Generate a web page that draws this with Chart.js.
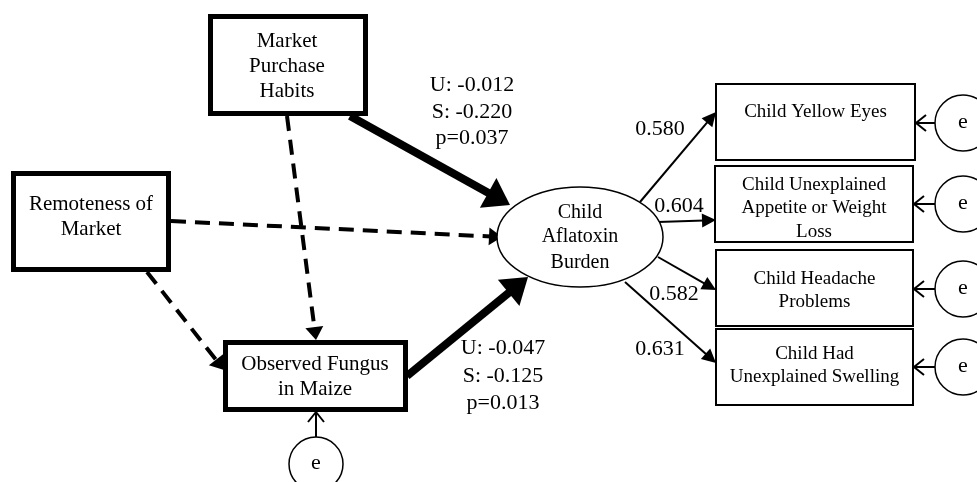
<!DOCTYPE html>
<html>
<head>
<meta charset="utf-8">
<script src="https://cdn.jsdelivr.net/npm/chart.js@4.4.1/dist/chart.umd.min.js"></script>
<style>
  html, body { margin: 0; padding: 0; background: #fff; }
  #wrap { width: 977px; height: 482px; }
</style>
</head>
<body>
<div id="wrap"><canvas id="sem"></canvas></div>
<script>
// node labels
const predictorLabels = [['Market', 'Purchase', 'Habits'], ['Remoteness of', 'Market']];
const mediatorLabel = ['Observed Fungus', 'in Maize'];
const latentLabel = ['Child', 'Aflatoxin', 'Burden'];
const indicatorLabels = [
    ['Child Yellow Eyes'],
    ['Child Unexplained', 'Appetite or Weight', 'Loss'],
    ['Child Headache', 'Problems'],
    ['Child Had', 'Unexplained Swelling']
];
const errorLabel = 'e';

// loadings of the latent factor on the four indicators
const loadings = [0.580, 0.604, 0.582, 0.631];

// significant paths: purchase habits -> burden, fungus -> burden
const pathU = [-0.012, -0.047];
const pathS = [-0.220, -0.125];
const pathP = [0.037, 0.013];

// layout, in diagram units (the scales map them to the canvas)
const boxMph = { x0: 210.5, y0: 16.5, x1: 365.5, y1: 113.5, lw: 5, cx: 287, ty: [41, 66, 91], font: 21 };
const boxRem = { x0: 13.5, y0: 173.5, x1: 168.5, y1: 269.5, lw: 5, cx: 91, ty: [204, 229], font: 21 };
const boxFun = { x0: 225.5, y0: 342.5, x1: 405.5, y1: 409.5, lw: 5, cx: 315, ty: [364, 389], font: 21 };
const indBoxes = [
    { x0: 716, y0: 84, x1: 915, y1: 160, ty: [112] },
    { x0: 715, y0: 166, x1: 913, y1: 242, ty: [185, 208, 232] },
    { x0: 716, y0: 250, x1: 913, y1: 326, ty: [279, 302] },
    { x0: 716, y0: 329, x1: 913, y1: 405, ty: [354, 377] }
];
const latent = { cx: 580, cy: 237, rx: 83, ry: 50, ty: [213, 237, 263] };
const errRight = [123, 204, 289, 367];
const loadArrows = [
    [640, 202, 716, 112],
    [658, 222, 716, 220],
    [658, 257, 716, 290],
    [625, 282, 716, 363]
];
const loadText = [[660, 129], [679, 206], [674, 294], [660, 349]];
const coefText = [[472, [85, 112, 138]], [503, [348, 376, 403]]];

const FONT = '"Liberation Serif", "Times New Roman", serif';

function arrow(ctx, a, b, o) {
    const dx = b.x - a.x, dy = b.y - a.y;
    const len = Math.hypot(dx, dy);
    const ux = dx / len, uy = dy / len;
    const bx = b.x - ux * o.head, by = b.y - uy * o.head;
    ctx.save();
    ctx.strokeStyle = '#000';
    ctx.fillStyle = '#000';
    ctx.lineWidth = o.lw;
    ctx.setLineDash(o.dash || []);
    ctx.beginPath();
    ctx.moveTo(a.x, a.y);
    if (o.open) ctx.lineTo(b.x, b.y);
    else ctx.lineTo(bx + ux * 2, by + uy * 2);
    ctx.stroke();
    ctx.setLineDash([]);
    ctx.beginPath();
    ctx.moveTo(bx - uy * o.half, by + ux * o.half);
    ctx.lineTo(b.x, b.y);
    ctx.lineTo(bx + uy * o.half, by - ux * o.half);
    if (o.open) {
        ctx.lineWidth = o.lw;
        ctx.stroke();
    } else {
        ctx.closePath();
        ctx.fill();
    }
    ctx.restore();
}

const semPlugin = {
    id: 'sem',
    afterDatasetsDraw(chart) {
        const ctx = chart.ctx;
        const sx = chart.scales.x, sy = chart.scales.y;
        const P = (x, y) => ({ x: sx.getPixelForValue(x), y: sy.getPixelForValue(y) });
        const W = v => sx.getPixelForValue(v) - sx.getPixelForValue(0);

        function text(str, x, y, size) {
            const p = P(x, y);
            ctx.font = size + 'px ' + FONT;
            ctx.fillStyle = '#000';
            ctx.textAlign = 'center';
            ctx.textBaseline = 'middle';
            ctx.fillText(str, p.x, p.y);
        }
        function box(b, lines, lw, size) {
            const a = P(b.x0, b.y0), c = P(b.x1, b.y1);
            ctx.save();
            ctx.fillStyle = '#fff';
            ctx.fillRect(a.x, a.y, c.x - a.x, c.y - a.y);
            ctx.strokeStyle = '#000';
            ctx.lineWidth = lw;
            ctx.strokeRect(a.x, a.y, c.x - a.x, c.y - a.y);
            ctx.restore();
            const cx = b.cx !== undefined ? b.cx : (b.x0 + b.x1) / 2;
            lines.forEach((l, i) => text(l, cx, b.ty[i], size));
        }
        function circle(x, y, r) {
            const p = P(x, y);
            ctx.save();
            ctx.beginPath();
            ctx.arc(p.x, p.y, W(r), 0, Math.PI * 2);
            ctx.fillStyle = '#fff';
            ctx.fill();
            ctx.strokeStyle = '#000';
            ctx.lineWidth = 1.5;
            ctx.stroke();
            ctx.restore();
            text(errorLabel, x, y - 1, 22);
        }

        ctx.save();
        // dashed (non-significant) paths
        const dashed = { lw: 4, head: 13, half: 9, dash: [15, 9] };
        arrow(ctx, P(287, 116), P(316, 340), dashed);
        arrow(ctx, P(171, 221), P(502, 237), dashed);
        arrow(ctx, P(147, 272), P(224, 370), dashed);

        // significant structural paths
        const thick = { lw: 8, head: 25, half: 17 };
        arrow(ctx, P(350, 116), P(510, 205), thick);
        arrow(ctx, P(407, 376), P(528, 277), thick);

        // loadings
        const thin = { lw: 2, head: 14, half: 7 };
        loadArrows.forEach(a => arrow(ctx, P(a[0], a[1]), P(a[2], a[3]), thin));

        // error terms
        const open = { lw: 2, head: 10, half: 8, open: true };
        errRight.forEach((y, i) => arrow(ctx, P(935, y), P(indBoxes[i].x1 + 1, y), open));
        arrow(ctx, P(316, 437), P(316, 412), open);

        // boxes
        box(boxMph, predictorLabels[0], boxMph.lw, boxMph.font);
        box(boxRem, predictorLabels[1], boxRem.lw, boxRem.font);
        box(boxFun, mediatorLabel, boxFun.lw, boxFun.font);
        indBoxes.forEach((b, i) => box(b, indicatorLabels[i], 2, 19));

        // latent ellipse
        const c = P(latent.cx, latent.cy);
        ctx.beginPath();
        ctx.ellipse(c.x, c.y, W(latent.rx), W(latent.ry), 0, 0, Math.PI * 2);
        ctx.fillStyle = '#fff';
        ctx.fill();
        ctx.strokeStyle = '#000';
        ctx.lineWidth = 1.5;
        ctx.stroke();
        latentLabel.forEach((l, i) => text(l, latent.cx, latent.ty[i], 20));

        // error circles
        errRight.forEach(y => circle(963, y, 28));
        circle(316, 464, 27);

        // coefficient labels
        loadings.forEach((v, i) => text(v.toFixed(3), loadText[i][0], loadText[i][1], 22));
        coefText.forEach((t, i) => {
            text('U: ' + pathU[i].toFixed(3), t[0], t[1][0], 22);
            text('S: ' + pathS[i].toFixed(3), t[0], t[1][1], 22);
            text('p=' + pathP[i].toFixed(3), t[0], t[1][2], 22);
        });
        ctx.restore();
    }
};

new Chart(document.getElementById('sem'), {
    type: 'scatter',
    data: {
        datasets: [{
            label: 'nodes',
            data: [
                { x: boxMph.cx, y: 65 }, { x: boxRem.cx, y: 221 }, { x: boxFun.cx, y: 376 },
                { x: latent.cx, y: latent.cy }
            ],
            pointRadius: 0
        }]
    },
    options: {
        responsive: true,
        maintainAspectRatio: false,
        animation: false,
        layout: { padding: 0 },
        plugins: { legend: { display: false }, tooltip: { enabled: false } },
        scales: {
            x: { type: 'linear', min: 0, max: 977, display: false },
            y: { type: 'linear', min: 0, max: 482, reverse: true, display: false }
        }
    },
    plugins: [semPlugin]
});
</script>
</body>
</html>
